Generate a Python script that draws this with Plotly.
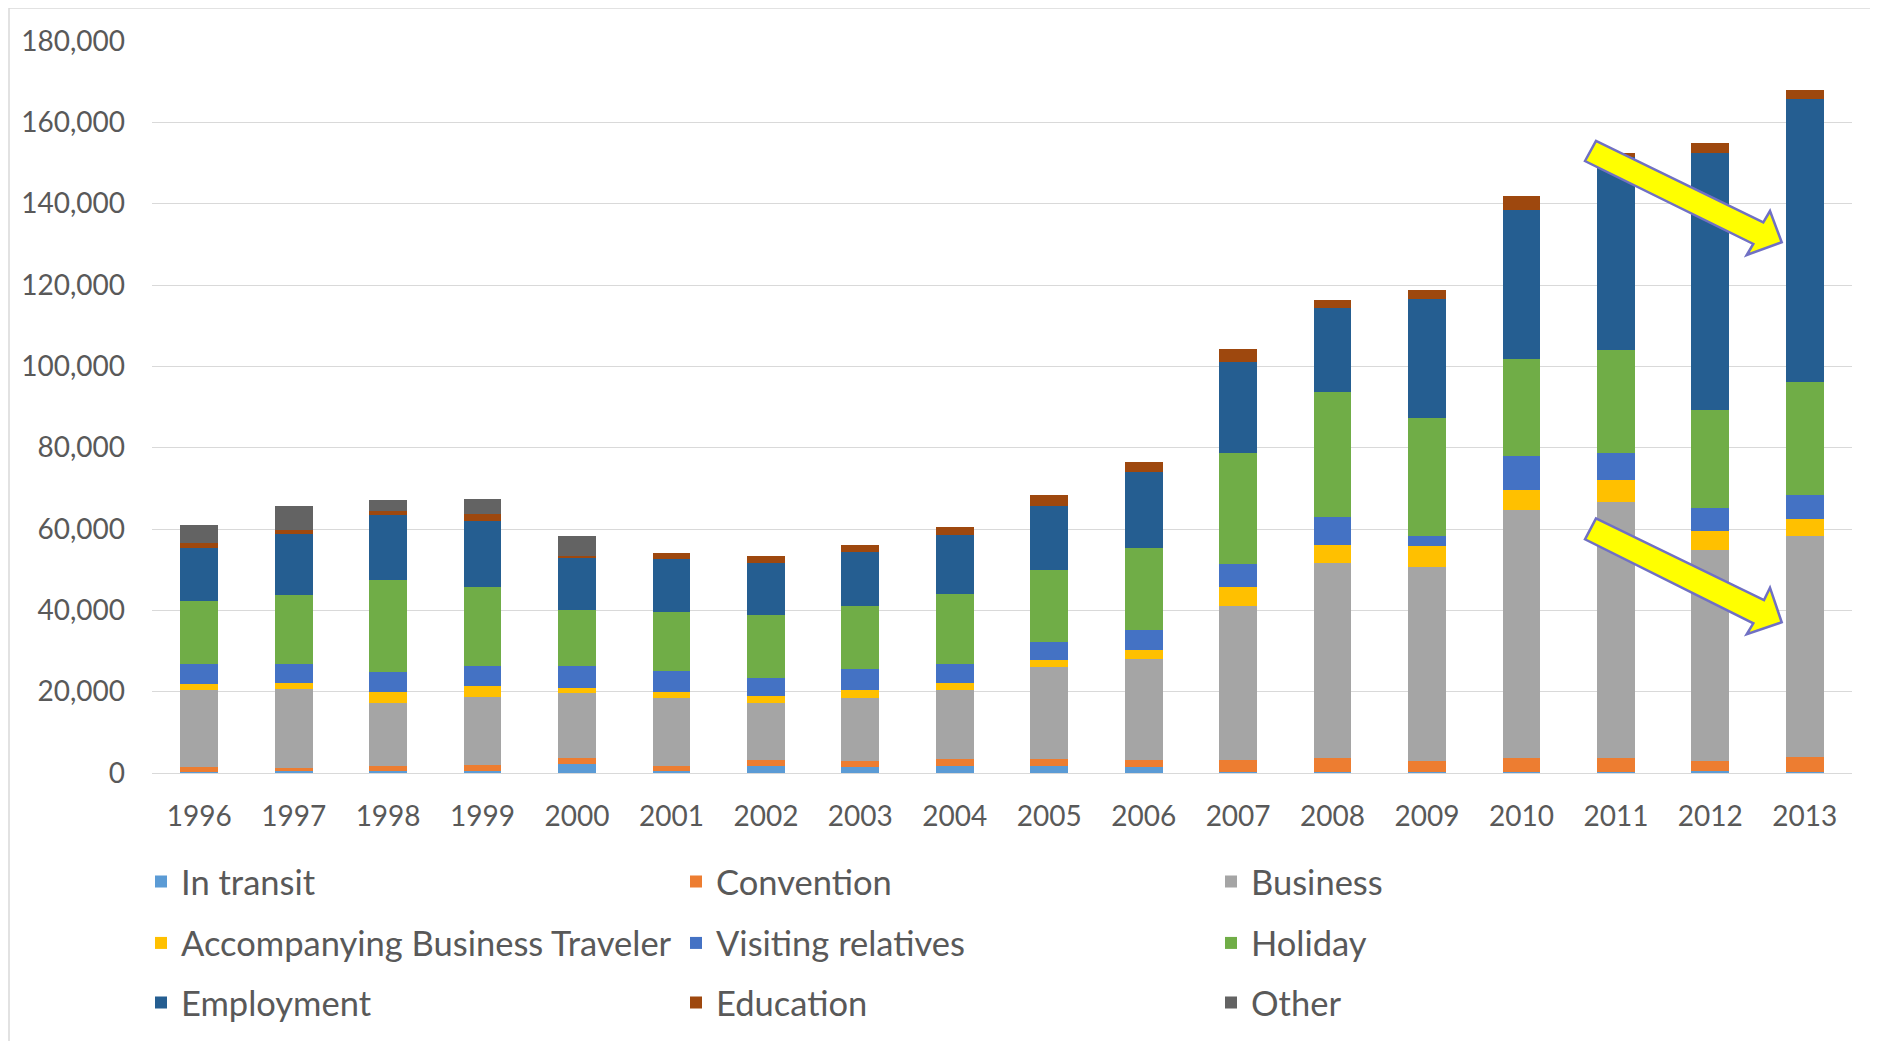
import plotly.graph_objects as go

years = [str(y) for y in range(1996, 2014)]

in_transit = [300, 500, 400, 600, 2300, 400, 1600, 1500, 1600, 1600, 1500, 300, 300, 200, 300, 300, 500, 350]
convention = [1200, 800, 1200, 1400, 1400, 1200, 1600, 1550, 1800, 1800, 1800, 3000, 3400, 2800, 3300, 3300, 2500, 3600]
business = [19000, 19400, 15700, 16600, 16000, 16800, 14100, 15400, 17000, 22600, 24750, 37760, 47860, 47730, 61110, 62920, 51900, 54340]
accompanying = [1500, 1400, 2500, 2800, 1200, 1600, 1600, 1900, 1650, 1800, 2100, 4750, 4500, 4970, 4850, 5520, 4510, 4170]
visiting = [4900, 4750, 5100, 4900, 5300, 5200, 4350, 5250, 4700, 4500, 4900, 5500, 6800, 2590, 8460, 6540, 5640, 5980]
holiday = [15300, 16800, 22500, 19500, 13800, 14300, 15700, 15400, 17300, 17600, 20250, 27300, 30900, 28970, 23900, 25370, 24240, 27620]
employment = [13100, 15200, 16150, 16200, 12900, 13100, 12800, 13300, 14500, 15700, 18600, 22540, 20540, 29310, 36410, 47620, 63140, 69670]
education = [1200, 1000, 1000, 1800, 400, 1500, 1550, 1800, 1900, 2700, 2550, 3000, 1900, 2260, 3610, 800, 2500, 2140]
other = [4500, 5800, 2600, 3700, 4900, 0, 0, 0, 0, 0, 0, 0, 0, 0, 0, 0, 0, 0]

y_ticks = list(range(0, 180001, 20000))

series = [
    ("In transit", in_transit, "#5B9BD5", "legend"),
    ("Convention", convention, "#ED7D31", "legend"),
    ("Business", business, "#A5A5A5", "legend"),
    ("Accompanying Business Traveler", accompanying, "#FFC000", "legend2"),
    ("Visiting relatives", visiting, "#4472C4", "legend2"),
    ("Holiday", holiday, "#70AD47", "legend2"),
    ("Employment", employment, "#255E91", "legend3"),
    ("Education", education, "#9E480E", "legend3"),
    ("Other", other, "#636363", "legend3"),
]

# page body has an 8px margin; figure sized so the page fills the window
OFF = 8
W, H = 1870, 1033
L, R, T, B = 144, 26, 33, 268
PW, PH = W - L - R, H - T - B


def to_paper(x, y):
    """page pixel -> paper coordinates"""
    fx, fy = x - OFF, y - OFF
    return (fx - L) / PW, (H - B - fy) / PH


FONT = "Lato"
GREY = "#595959"

fig = go.Figure()
for name, vals, color, lg in series:
    fig.add_trace(go.Bar(
        x=years, y=vals, name=name, legend=lg,
        marker=dict(color=color, line=dict(width=0)),
    ))

# arrows (page-pixel outlines converted to paper coordinates)
arrow_upper = [(1585, 161), (1596, 141), (1763.3, 222.3), (1770, 211),
               (1781.7, 242.3), (1746.7, 255), (1753.3, 244)]
arrow_lower = [(1585, 539.3), (1596, 518.3), (1764, 600), (1770, 587.7),
               (1781.7, 622.3), (1746.7, 634.3), (1753.3, 623.3)]
shapes = []
for arr in (arrow_upper, arrow_lower):
    pts = [to_paper(x, y) for x, y in arr]
    path = "M " + " L ".join(f"{px:.5f},{py:.5f}" for px, py in pts) + " Z"
    shapes.append(dict(type="path", xref="paper", yref="paper", path=path,
                       fillcolor="#FFFF00", line=dict(color="#7070C4", width=2.5)))

# chart frame (top and left edges)
x0, y0 = to_paper(OFF + 1, OFF)
x1, y1 = to_paper(OFF + W, OFF + H)
shapes.append(dict(type="line", xref="paper", yref="paper", x0=x0, y0=y0, x1=x1, y1=y0,
                   line=dict(color="#D9D9D9", width=1.5)))
shapes.append(dict(type="line", xref="paper", yref="paper", x0=x0, y0=y0, x1=x0, y1=y1,
                   line=dict(color="#D9D9D9", width=1.5)))

legend_common = dict(orientation="h", xanchor="left", yanchor="middle",
                     entrywidth=490, entrywidthmode="pixels",
                     font=dict(family=FONT, size=34.5, color=GREY),
                     bgcolor="rgba(0,0,0,0)", traceorder="normal")
lx, _ = to_paper(141, 0)
fig.update_layout(
    width=W, height=H,
    margin=dict(l=L, r=R, t=T, b=B, autoexpand=False),
    paper_bgcolor="white", plot_bgcolor="white",
    barmode="stack", bargap=0.6,
    font=dict(family=FONT, color=GREY),
    xaxis=dict(type="category", showgrid=False, showline=False, zeroline=False,
               ticks="", tickfont=dict(family=FONT, size=28, color=GREY),
               ticklabelstandoff=24),
    yaxis=dict(range=[0, 180000], tickvals=y_ticks, tickformat=",",
               showgrid=True, gridcolor="#D9D9D9", gridwidth=1,
               zeroline=True, zerolinecolor="#D9D9D9", zerolinewidth=1,
               showline=False, ticks="",
               tickfont=dict(family=FONT, size=28, color=GREY),
               ticklabelstandoff=26),
    legend=dict(x=lx, y=to_paper(0, 881.5)[1], **legend_common),
    legend2=dict(x=lx, y=to_paper(0, 943)[1], **legend_common),
    legend3=dict(x=lx, y=to_paper(0, 1002.5)[1], **legend_common),
    shapes=shapes,
    showlegend=True,
)

fig.write_html("out.html")
